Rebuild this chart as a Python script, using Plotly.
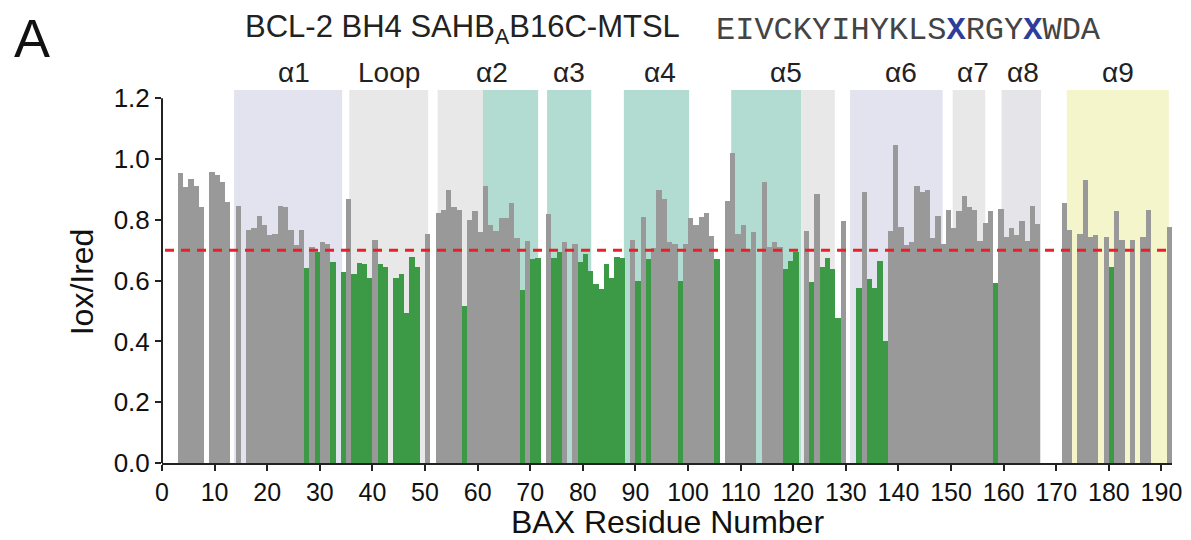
import plotly.graph_objects as go

# ---- data ----
residues = [4, 5, 6, 7, 8, 10, 11, 12, 13, 15, 17, 18, 19, 20, 21, 22, 23, 24, 25, 26, 27,
            28, 29, 30, 31, 32, 33, 35, 36, 37, 38, 39, 40, 41, 42, 43, 45, 46, 47, 48, 49,
            51, 53, 54, 55, 56, 57, 58, 59, 60, 61, 62, 63, 64, 65, 66, 67, 68, 69, 70, 71,
            72, 74, 75, 76, 77, 79, 80, 81, 82, 83, 84, 85, 86, 87, 88, 90, 91, 92, 93, 94,
            95, 96, 97, 98, 99, 100, 101, 102, 103, 104, 105, 106, 108, 109, 110, 111, 112,
            113, 115, 116, 117, 118, 119, 120, 121, 123, 124, 125, 126, 127, 128, 129, 130,
            133, 134, 135, 136, 137, 138, 139, 140, 141, 142, 143, 144, 145, 146, 147, 148,
            149, 150, 151, 152, 153, 154, 155, 156, 157, 158, 159, 160, 161, 162, 163, 164,
            165, 166, 167, 172, 173, 175, 176, 177, 178, 180, 181, 182, 183, 185, 187, 188, 192]
iox_ired = [0.953, 0.907, 0.934, 0.911, 0.841, 0.957, 0.948, 0.925, 0.859, 0.846, 0.767, 0.772,
            0.813, 0.782, 0.749, 0.753, 0.846, 0.841, 0.767, 0.716, 0.767, 0.641, 0.711, 0.695,
            0.726, 0.720, 0.660, 0.627, 0.869, 0.622, 0.659, 0.655, 0.609, 0.734, 0.655, 0.645,
            0.609, 0.622, 0.493, 0.678, 0.645, 0.752, 0.823, 0.832, 0.898, 0.841, 0.832, 0.516,
            0.799, 0.828, 0.759, 0.911, 0.782, 0.764, 0.805, 0.805, 0.856, 0.740, 0.568, 0.730,
            0.670, 0.674, 0.819, 0.674, 0.693, 0.726, 0.720, 0.660, 0.688, 0.632, 0.590, 0.572,
            0.655, 0.609, 0.678, 0.674, 0.734, 0.599, 0.809, 0.670, 0.707, 0.898, 0.869, 0.726,
            0.720, 0.599, 0.720, 0.805, 0.782, 0.809, 0.823, 0.748, 0.670, 0.861, 1.019, 0.753,
            0.782, 0.704, 0.759, 0.925, 0.712, 0.726, 0.712, 0.637, 0.664, 0.695, 0.763, 0.595,
            0.884, 0.645, 0.674, 0.637, 0.478, 0.795, 0.576, 0.892, 0.604, 0.576, 0.664, 0.400,
            0.763, 1.046, 0.776, 0.716, 0.726, 0.911, 0.892, 0.897, 0.740, 0.813, 0.720, 0.832,
            0.772, 0.828, 0.878, 0.841, 0.832, 0.730, 0.790, 0.828, 0.591, 0.837, 0.744, 0.772,
            0.749, 0.795, 0.730, 0.846, 0.786, 0.856, 0.767, 0.753, 0.930, 0.744, 0.749, 0.744,
            0.645, 0.828, 0.734, 0.734, 0.744, 0.832, 0.776]
threshold = 0.7

region_start = [13.7, 35.6, 52.4, 61.0, 73.2, 87.8, 108.2, 121.5, 130.8, 150.3, 159.6, 172.0]
region_end = [34.25, 50.6, 61.0, 71.5, 81.6, 100.2, 121.5, 127.9, 148.4, 156.5, 167.1, 191.4]
region_color = ["#e3e3f0", "#e8e8e8", "#e8e8e8", "#b2dcd1", "#b2dcd1", "#b2dcd1", "#b2dcd1",
                "#e8e8e8", "#e3e3f0", "#e8e8e8", "#e5e5e9", "#f5f5cc"]

label_text = ["α1", "Loop", "α2", "α3", "α4", "α5", "α6", "α7", "α8", "α9"]
label_x = [25.1, 43.2, 62.7, 77.4, 94.7, 118.6, 140.4, 154.1, 163.6, 181.7]

x_ticks = list(range(0, 191, 10))
y_ticks = [0.0, 0.2, 0.4, 0.6, 0.8, 1.0, 1.2]

GRAY = "#999999"
GREEN = "#3c9a47"

colors = [GREEN if v < threshold else GRAY for v in iox_ired]

fig = go.Figure()
fig.add_trace(go.Bar(x=residues, y=iox_ired, width=1, offset=-1,
                     marker=dict(color=colors, line=dict(width=0)), showlegend=False))

shapes = []
for s, e, c in zip(region_start, region_end, region_color):
    shapes.append(dict(type="rect", xref="x", yref="y", x0=s, x1=e, y0=0, y1=1.2275,
                       fillcolor=c, line=dict(width=0), layer="below"))
# threshold line
shapes.append(dict(type="line", xref="paper", yref="y", x0=0.003, x1=1.0, y0=threshold, y1=threshold,
                   line=dict(color="#e8202a", width=3, dash="9px,7px"), layer="above"))
# y axis line up to 1.2
shapes.append(dict(type="line", xref="paper", yref="y", x0=0, x1=0, y0=0, y1=1.2,
                   line=dict(color="#222222", width=2), layer="above"))

annotations = []
for t, xv in zip(label_text, label_x):
    annotations.append(dict(text=t, x=xv, xref="x", y=1.048, yref="paper", showarrow=False,
                            xanchor="center", yanchor="middle",
                            font=dict(family="Liberation Sans", size=28, color="#222222")))
annotations.append(dict(text="BCL-2 BH4 SAHB<sub>A</sub>B16C-MTSL", x=0.0804, xref="paper",
                        y=1.163, yref="paper", showarrow=False, xanchor="left", yanchor="middle",
                        font=dict(family="Liberation Sans", size=31, color="#222222")))
annotations.append(dict(text="EIVCKYIHYKLS<b><span style='color:#2e3d9c'>X</span></b>RGY"
                             "<b><span style='color:#2e3d9c'>X</span></b>WDA",
                        x=0.5466, xref="paper", y=1.160, yref="paper", showarrow=False,
                        xanchor="left", yanchor="middle",
                        font=dict(family="Liberation Mono", size=32, color="#444444")))
annotations.append(dict(text="A", x=-0.129, xref="paper", y=1.139, yref="paper", showarrow=False,
                        xanchor="center", yanchor="middle",
                        font=dict(family="Liberation Sans", size=54, color="#111111")))
annotations.append(dict(text="BAX Residue Number", x=0.5, xref="paper", y=-0.158, yref="paper",
                        showarrow=False, xanchor="center", yanchor="middle",
                        font=dict(family="Liberation Sans", size=32, color="#111111")))
annotations.append(dict(text="Iox/Ired", x=-0.079, xref="paper", y=0.485, yref="paper",
                        showarrow=False, xanchor="center", yanchor="middle", textangle=-90,
                        font=dict(family="Liberation Sans", size=32, color="#111111")))

# the page body adds an 8px offset; margins compensate for it
fig.update_layout(
    width=1191, height=540,
    margin=dict(l=154, r=27, t=82, b=85),
    plot_bgcolor="white", paper_bgcolor="white",
    shapes=shapes, annotations=annotations, bargap=0,
    xaxis=dict(range=[0, 192], tickvals=x_ticks, ticks="outside", ticklen=6, tickwidth=2,
               tickcolor="#222222", showline=True, linecolor="#222222", linewidth=2,
               showgrid=False, zeroline=False,
               tickfont=dict(family="Liberation Sans", size=25, color="#111111")),
    yaxis=dict(range=[0, 1.2275], tickvals=y_ticks, tickformat=".1f", ticks="outside",
               ticklen=6, tickwidth=2, tickcolor="#222222", showline=False,
               showgrid=False, zeroline=False,
               tickfont=dict(family="Liberation Sans", size=26, color="#111111")),
)

fig.write_html("out.html")
